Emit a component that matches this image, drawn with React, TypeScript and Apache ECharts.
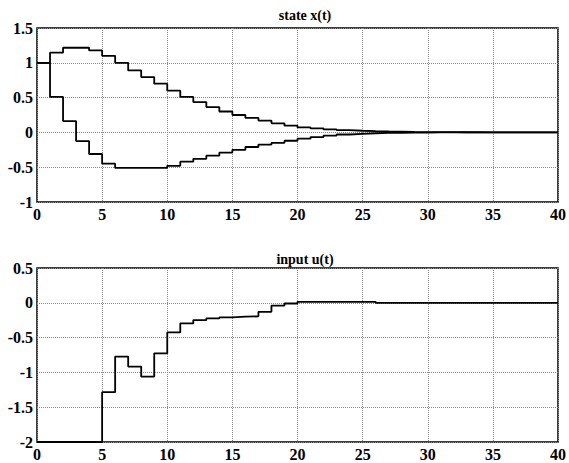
import React, { useEffect, useRef } from "react";
import * as echarts from "echarts";

const tSteps: number[] = Array.from({ length: 41 }, (_, i) => i);

const x1Values: number[] = [
  1.0, 1.145, 1.216, 1.216, 1.178, 1.1, 1.0, 0.89, 0.795, 0.7, 0.6, 0.51, 0.436, 0.364, 0.3,
  0.25, 0.21, 0.17, 0.13, 0.096, 0.072, 0.057, 0.043, 0.032, 0.024, 0.018, 0.013, 0.01, 0.007,
  0.005, 0.004, 0.003, 0.002, 0.002, 0.001, 0.001, 0.001, 0, 0, 0, 0,
];

const x2Values: number[] = [
  1.0, 0.51, 0.163, -0.125, -0.31, -0.45, -0.51, -0.51, -0.51, -0.51, -0.48, -0.42, -0.38,
  -0.335, -0.29, -0.25, -0.21, -0.175, -0.15, -0.12, -0.09, -0.067, -0.045, -0.03, -0.02,
  -0.012, -0.008, -0.005, -0.003, -0.002, -0.001, -0.001, 0, 0, 0, 0, 0, 0, 0, 0, 0,
];

const uValues: number[] = [
  -2, -2, -2, -2, -2, -1.284, -0.773, -0.916, -1.06, -0.726, -0.425, -0.296, -0.248, -0.224,
  -0.21, -0.2, -0.195, -0.13, -0.04, -0.01, 0.014, 0.014, 0.014, 0.014, 0.014, 0.014, 0, 0, 0,
  0, 0, 0, 0, 0, 0, 0, 0, 0, 0, 0, 0,
];

const titles: string[] = ["state x(t)", "input u(t)"];

const FONT = "'Liberation Serif', 'Times New Roman', serif";

export default function App() {
  const ref = useRef<HTMLDivElement>(null);

  useEffect(() => {
    document.body.style.margin = "0";
    if (!ref.current) return;
    const chart = echarts.init(ref.current, undefined, { renderer: "svg" });

    const pair = (vals: number[]) => tSteps.map((t, i) => [t, vals[i]]);

    const axisLabel = {
      fontFamily: FONT,
      fontWeight: "bold" as const,
      fontSize: 16,
      color: "#000",
    };
    const splitLine = {
      show: true,
      lineStyle: { color: "#888", type: "dotted" as const, width: 1 },
    };

    const xAxisBase = {
      type: "value" as const,
      min: 0,
      max: 40,
      interval: 5,
      axisLine: { show: false },
      axisTick: { show: false },
      axisLabel: { ...axisLabel, margin: 4 },
      splitLine,
    };

    const lineStyle = { color: "#000", width: 1.8 };

    chart.setOption({
      animation: false,
      backgroundColor: "#fff",
      title: [
        {
          text: titles[0],
          left: 300,
          top: 3,
          textAlign: "center",
          textStyle: { fontFamily: FONT, fontWeight: "bold", fontSize: 14, color: "#000" },
        },
        {
          text: titles[1],
          left: 300,
          top: 247,
          textAlign: "center",
          textStyle: { fontFamily: FONT, fontWeight: "bold", fontSize: 14, color: "#000" },
        },
      ],
      grid: [
        {
          left: 37,
          right: 8,
          top: 28,
          height: 174,
          show: true,
          borderColor: "#000",
          borderWidth: 1.5,
          backgroundColor: "transparent",
        },
        {
          left: 37,
          right: 8,
          top: 268,
          height: 174,
          show: true,
          borderColor: "#000",
          borderWidth: 1.5,
          backgroundColor: "transparent",
        },
      ],
      xAxis: [
        { ...xAxisBase, gridIndex: 0 },
        { ...xAxisBase, gridIndex: 1 },
      ],
      yAxis: [
        {
          type: "value",
          gridIndex: 0,
          min: -1,
          max: 1.5,
          interval: 0.5,
          axisLine: { show: false },
          axisTick: { show: false },
          axisLabel: { ...axisLabel, margin: 4 },
          splitLine,
        },
        {
          type: "value",
          gridIndex: 1,
          min: -2,
          max: 0.5,
          interval: 0.5,
          axisLine: { show: false },
          axisTick: { show: false },
          axisLabel: { ...axisLabel, margin: 4 },
          splitLine,
        },
      ],
      series: [
        {
          type: "line",
          xAxisIndex: 0,
          yAxisIndex: 0,
          step: "end",
          data: pair(x1Values),
          showSymbol: false,
          lineStyle,
        },
        {
          type: "line",
          xAxisIndex: 0,
          yAxisIndex: 0,
          step: "end",
          data: pair(x2Values),
          showSymbol: false,
          lineStyle,
        },
        {
          type: "line",
          xAxisIndex: 1,
          yAxisIndex: 1,
          step: "end",
          data: pair(uValues),
          showSymbol: false,
          lineStyle,
        },
      ],
    });

    return () => chart.dispose();
  }, []);

  return (
    <div
      ref={ref}
      style={{ position: "absolute", left: 0, top: 0, width: 569, height: 463 }}
    />
  );
}
